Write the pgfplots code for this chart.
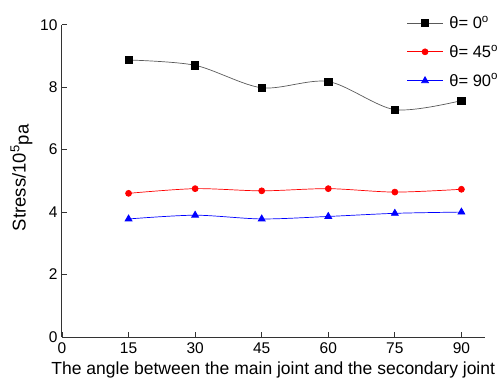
\documentclass[border=0pt]{standalone}
\usepackage{pgfplots}
\pgfplotsset{compat=1.18}
\usepackage{fontspec}
\setmainfont{Liberation Sans}
\begin{document}
\begin{tikzpicture}
\begin{axis}[
  name=ax,
  scale only axis,
  width=422.5bp, height=312.3bp,
  xmin=0, xmax=95.2, ymin=0, ymax=10,
  axis lines=left,
  axis line style={-, line width=1bp, black!80},
  xtick={0,15,30,45,60,75,90},
  ytick={0,2,4,6,8,10},
  tick align=inside,
  major tick length=5bp,
  tick style={line width=0.8bp, black!80},
  /pgf/number format/assume math mode=true,
  tick label style={font=\fontsize{15.5bp}{17bp}\selectfont},
  xticklabel style={yshift=-2bp},
  yticklabel style={xshift=-1bp},
  xlabel={The angle between the main joint and the secondary joint},
  ylabel={Stress/10\textsuperscript{5}\raisebox{-3bp}{pa}},
  xlabel style={font=\fontsize{17.5bp}{19bp}\selectfont, yshift=-1bp},
  ylabel style={font=\fontsize{18.5bp}{20bp}\selectfont, yshift=1bp, xshift=3bp},
  legend style={at={(1,1)}, anchor=north west, xshift=-81bp, yshift=13bp,
    draw=none, fill=none, row sep=11bp,
    nodes={inner xsep=6bp},
    font=\fontsize{16.5bp}{18bp}\selectfont},
  legend cell align=left,
  legend image code/.code={\draw[mark repeat=2,mark phase=2,#1] plot coordinates {(0bp,0bp)(18bp,0bp)(36bp,0bp)};},
]
\addplot[smooth, black!65, line width=0.7bp, mark=square*, mark size=3.6bp, mark options={fill=black, draw=black, solid}]
  coordinates {(15,8.87) (30,8.70) (45,7.98) (60,8.18) (75,7.28) (90,7.57)};
\addlegendentry{θ= 0\textsuperscript{o}}
\addplot[smooth, red, line width=0.7bp, mark=*, mark size=3bp, mark options={fill=red, draw=red, solid}]
  coordinates {(15,4.60) (30,4.75) (45,4.68) (60,4.75) (75,4.64) (90,4.73)};
\addlegendentry{θ= 45\textsuperscript{o}}
\addplot[smooth, blue, line width=0.7bp, mark=triangle*, mark size=4bp, mark options={fill=blue, draw=blue, solid}]
  coordinates {(15,3.78) (30,3.90) (45,3.78) (60,3.86) (75,3.96) (90,4.00)};
\addlegendentry{θ= 90\textsuperscript{o}}
\end{axis}
\pgfresetboundingbox
\path[use as bounding box] ([shift={(-62bp,-55bp)}]ax.south west) rectangle ([shift={(438bp,337bp)}]ax.south west);
\end{tikzpicture}
\end{document}
